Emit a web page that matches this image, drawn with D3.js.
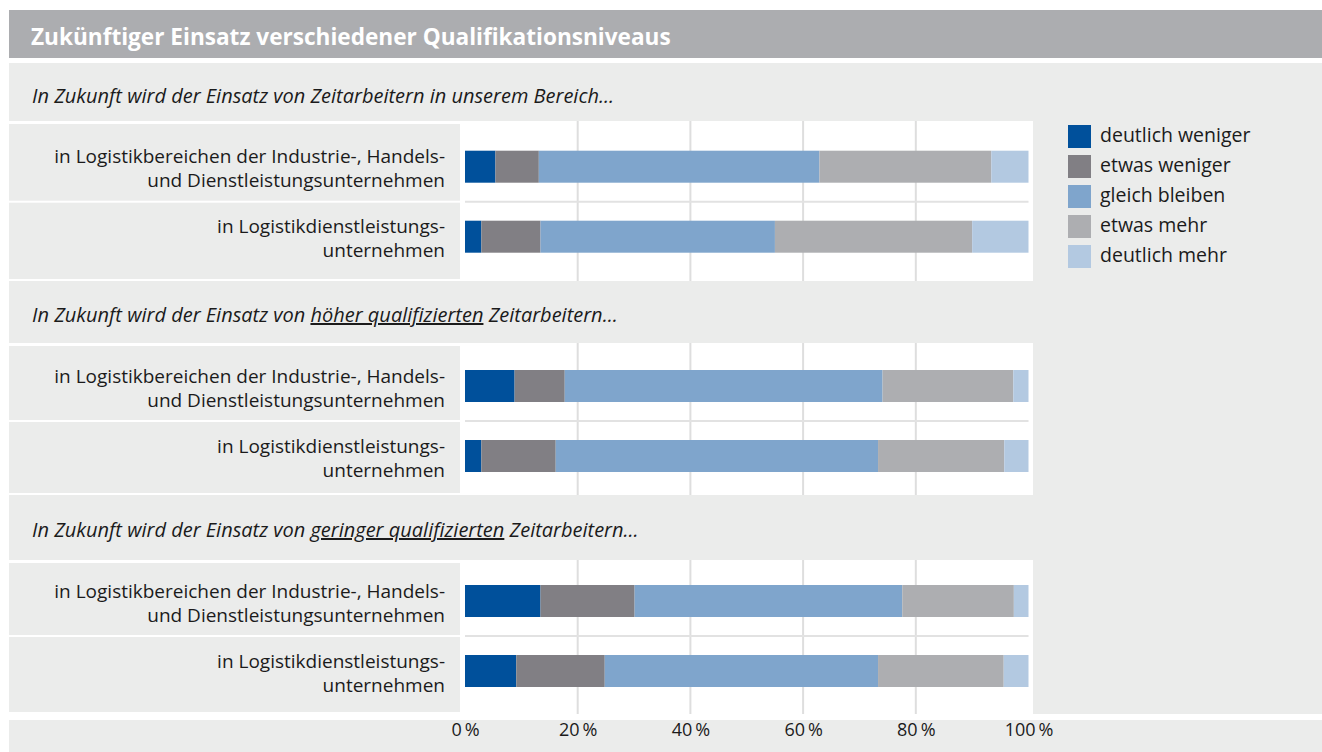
<!DOCTYPE html>
<html lang="de">
<head>
<meta charset="utf-8">
<script src="https://cdn.jsdelivr.net/npm/d3@7"></script>
<style>
  html, body { margin: 0; padding: 0; background: #ffffff; }
  svg { display: block; font-family: "Open Sans", Lato, sans-serif; }
</style>
</head>
<body>
<svg id="chart" width="1322" height="752"></svg>
<script>
// ---- data -------------------------------------------------------------
const title = "Zukünftiger Einsatz verschiedener Qualifikationsniveaus";

// answer categories (stack order, left to right)
const categories = ["deutlich weniger", "etwas weniger", "gleich bleiben", "etwas mehr", "deutlich mehr"];

// question blocks: text before / underlined part / text after
const questionPre  = ["In Zukunft wird der Einsatz von Zeitarbeitern in unserem Bereich...",
                      "In Zukunft wird der Einsatz von ",
                      "In Zukunft wird der Einsatz von "];
const questionMark = ["", "höher qualifizierten", "geringer qualifizierten"];
const questionPost = ["", " Zeitarbeitern...", " Zeitarbeitern..."];

// respondent groups inside each block (two text lines each)
const rowLabels = [
  ["in Logistikbereichen der Industrie-, Handels-", "und Dienstleistungsunternehmen"],
  ["in Logistikdienstleistungs-", "unternehmen"]
];

// shares in percent, one value per bar (block 1 row 1, block 1 row 2, block 2 row 1, ...)
const deutlichWeniger = [5.4, 2.9, 8.8, 2.9, 13.4, 9.1];
const etwasWeniger    = [7.7, 10.5, 8.9, 13.2, 16.7, 15.7];
const gleichBleiben   = [49.8, 41.6, 56.4, 57.2, 47.5, 48.5];
const etwasMehr       = [30.5, 35.0, 23.2, 22.4, 19.8, 22.3];
const deutlichMehr    = [6.6, 10.0, 2.7, 4.3, 2.6, 4.4];

const xTicks = [0, 20, 40, 60, 80, 100];

// ---- styling / layout -------------------------------------------------
const colors = ["#00509b", "#817f84", "#7fa5cc", "#adaeb1", "#b3c9e1"];
const panelFill = "#ebeceb";
const gridColor = "#dedede";
const textColor = "#1b1b1b";

const W = 1322, H = 752;
const panelX = 9;
const labelRight = 460;          // right edge of the label column
const plotRight = 1033;          // right edge of the white plot area
const blockSubY   = [103, 322, 537];   // baselines of the question lines
const blockTop    = [121, 343, 560];   // plot areas
const blockBottom = [281, 495, 714];
const blockBarTop = [150.7, 370, 585]; // first bar of each block
const barH = 32, barStep = 70;
const labelSize = 19, labelLine = 24;

const svg = d3.select("#chart");

// stacked series
const table = deutlichWeniger.map((_, i) => ({
  idx: i,
  block: Math.floor(i / 2),
  row: i % 2,
  [categories[0]]: deutlichWeniger[i],
  [categories[1]]: etwasWeniger[i],
  [categories[2]]: gleichBleiben[i],
  [categories[3]]: etwasMehr[i],
  [categories[4]]: deutlichMehr[i]
}));
const series = d3.stack().keys(categories)(table);

const x = d3.scaleLinear().domain([0, 100]).range([465, 1028.5]);
const color = d3.scaleOrdinal().domain(categories).range(colors);

// ---- background -------------------------------------------------------
svg.append("rect").attr("x", 0).attr("y", 0).attr("width", W).attr("height", H).attr("fill", "#fff");
svg.append("rect").attr("x", panelX).attr("y", 10).attr("width", W - panelX).attr("height", 48)
  .attr("fill", "#acadb0");
svg.append("text").attr("x", 31).attr("y", 45)
  .attr("fill", "#fff").attr("font-weight", 700).attr("font-size", 22.6)
  .text(title);
svg.append("rect").attr("x", panelX).attr("y", 63).attr("width", W - panelX).attr("height", H - 63)
  .attr("fill", panelFill);
// separator above the axis band
svg.append("rect").attr("x", panelX).attr("y", 714).attr("width", W - panelX).attr("height", 6)
  .attr("fill", "#fff");

// ---- blocks -----------------------------------------------------------
const blocks = d3.range(3).map(b => {
  const y = d3.scaleBand().domain([0, 1])
    .range([blockBarTop[b] - (barStep - barH) / 2, blockBarTop[b] - (barStep - barH) / 2 + 2 * barStep])
    .paddingInner((barStep - barH) / barStep)
    .paddingOuter((barStep - barH) / barStep / 2);
  return { b, y, sep: blockBarTop[b] + barH + (barStep - barH) / 2 };
});

blocks.forEach(({ b, y, sep }) => {
  const top = blockTop[b], bottom = blockBottom[b];
  const g = svg.append("g");

  // question line
  const q = g.append("text").attr("x", 32).attr("y", blockSubY[b])
    .attr("font-style", "italic").attr("font-size", 20).attr("fill", textColor);
  q.append("tspan").text(questionPre[b]);
  if (questionMark[b]) {
    q.append("tspan").attr("text-decoration", "underline").text(questionMark[b]);
    q.append("tspan").text(questionPost[b]);
  }

  // label column: white frame with grey cells
  g.append("rect").attr("x", panelX).attr("y", top).attr("width", labelRight - panelX)
    .attr("height", bottom - top).attr("fill", "#fff");
  g.append("rect").attr("x", panelX).attr("y", top + 3).attr("width", labelRight - panelX)
    .attr("height", sep - 1 - (top + 3)).attr("fill", panelFill);
  g.append("rect").attr("x", panelX).attr("y", sep + 1).attr("width", labelRight - panelX)
    .attr("height", bottom - 2 - (sep + 1)).attr("fill", panelFill);

  // plot area
  g.append("rect").attr("x", labelRight).attr("y", top).attr("width", plotRight - labelRight)
    .attr("height", bottom - top).attr("fill", "#fff");
  g.selectAll("line.grid").data(xTicks.filter(t => t > 0 && t < 100)).join("line")
    .attr("class", "grid")
    .attr("x1", d => x(d)).attr("x2", d => x(d))
    .attr("y1", top).attr("y2", bottom)
    .attr("stroke", gridColor).attr("stroke-width", 2);
  g.append("line").attr("x1", x(0)).attr("x2", x(100)).attr("y1", sep).attr("y2", sep)
    .attr("stroke", "#e2e2e2").attr("stroke-width", 2);

  // bars
  series.forEach(s => {
    g.selectAll(null).data(s.filter(d => d.data.block === b)).join("rect")
      .attr("x", d => x(d[0]))
      .attr("width", d => x(d[1]) - x(d[0]))
      .attr("y", d => y(d.data.row))
      .attr("height", y.bandwidth())
      .attr("fill", color(s.key));
  });

  // row labels, one text element per line
  rowLabels.forEach((lines, r) => {
    const cy = y(r) + y.bandwidth() / 2 + 2;
    lines.forEach((line, k) => {
      g.append("text").attr("text-anchor", "end")
        .attr("font-size", labelSize).attr("fill", textColor)
        .attr("x", 445).attr("y", cy + (k - 0.5) * labelLine + 6.5)
        .text(line);
    });
  });
});

// ---- x axis -----------------------------------------------------------
const axis = svg.append("g").attr("transform", "translate(0,723)")
  .call(d3.axisBottom(x).tickValues(xTicks).tickSize(0).tickPadding(0)
    .tickFormat(d => d + "\u2009%"));
axis.select(".domain").remove();
axis.selectAll("text").attr("font-family", "'Open Sans', sans-serif").attr("font-size", 18)
  .attr("fill", textColor).attr("dy", "0.72em");

// ---- legend -----------------------------------------------------------
const legend = svg.append("g").attr("transform", "translate(1068,125)");
const item = legend.selectAll("g").data(categories).join("g")
  .attr("transform", (d, i) => `translate(0,${i * 30})`);
item.append("rect").attr("width", 23).attr("height", 23).attr("fill", d => color(d));
item.append("text").attr("x", 32).attr("y", 11.5).attr("dy", "0.3em")
  .attr("font-size", 19.5).attr("fill", textColor).text(d => d);
</script>
</body>
</html>
